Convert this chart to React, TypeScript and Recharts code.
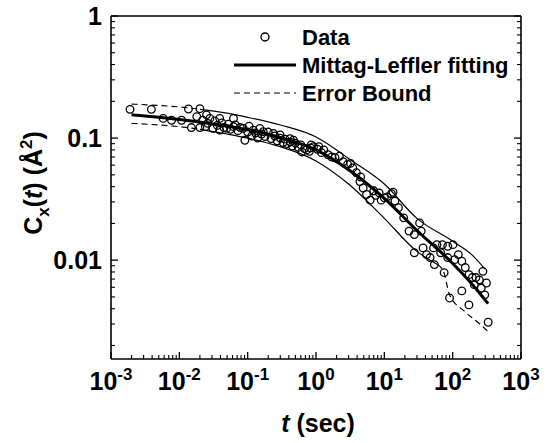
import React from "react";
import {
  ComposedChart,
  Line,
  Scatter,
  XAxis,
  YAxis,
  Customized,
} from "recharts";

// ---- data ----
const dataT = [
  0.0019, 0.0039, 0.0058, 0.0077, 0.0108, 0.0136, 0.02, 0.015, 0.02, 0.018,
  0.025, 0.028, 0.039, 0.062, 0.024, 0.031, 0.039, 0.049, 0.062, 0.091,
  0.086, 0.121, 0.151, 0.169, 0.238, 0.298, 0.417, 0.468, 0.62, 0.73, 0.92,
  0.022, 0.026, 0.033, 0.036, 0.042, 0.045, 0.052, 0.056, 0.066, 0.072,
  0.078, 0.1, 0.105, 0.115, 0.13, 0.14, 0.16, 0.18, 0.2, 0.22, 0.25, 0.27,
  0.3, 0.33, 0.35, 0.38, 0.42, 0.45, 0.5, 0.55, 0.6, 0.68, 0.8, 0.85,
  0.83, 1.05, 1.1, 1.2, 1.3, 1.5, 1.7, 1.9, 2.2, 2.5, 2.9, 3.2, 3.45, 3.9,
  4.4, 4.5, 4.9, 5.5, 6.2, 7.0, 7.5, 8.4, 9, 10, 11, 12.7, 13.4, 14.3, 16.1,
  19.2, 23, 27.5, 32.8, 34.7, 27.5, 36.9, 41.6, 46.8, 52.5, 59, 70.8, 84.7,
  101, 66.8, 84.7, 107, 121, 136, 153, 173, 194, 219, 246, 277, 312, 295,
  262, 207, 90, 136, 173, 331, 75, 54,
];
const dataC = [
  0.172, 0.172, 0.145, 0.14, 0.14, 0.173, 0.174, 0.122, 0.122, 0.15,
  0.155, 0.145, 0.145, 0.145, 0.124, 0.12, 0.116, 0.12, 0.124, 0.096,
  0.12, 0.116, 0.12, 0.113, 0.109, 0.106, 0.099, 0.096, 0.077, 0.08, 0.085,
  0.14, 0.132, 0.138, 0.127, 0.133, 0.122, 0.13, 0.118, 0.128, 0.115,
  0.122, 0.112, 0.125, 0.104, 0.11, 0.1, 0.108, 0.103, 0.112, 0.099, 0.104, 0.095,
  0.1, 0.092, 0.098, 0.09, 0.093, 0.086, 0.091, 0.084, 0.088, 0.082, 0.078, 0.088,
  0.083, 0.081, 0.085, 0.076, 0.08, 0.073, 0.07, 0.069, 0.071, 0.064, 0.061, 0.062, 0.057, 0.052,
  0.044, 0.048, 0.039, 0.0345, 0.031, 0.037, 0.034, 0.0356, 0.031, 0.0324, 0.033, 0.035, 0.036, 0.0305, 0.0269,
  0.0222, 0.0173, 0.0162, 0.0202, 0.0173, 0.0115, 0.0126, 0.0111, 0.0105, 0.0126, 0.0134, 0.0134, 0.013,
  0.0134, 0.0115, 0.0105, 0.0101, 0.0111, 0.0098, 0.0087, 0.0076, 0.0072, 0.0072, 0.0069, 0.0081, 0.0065, 0.0052,
  0.0059, 0.0063, 0.0049, 0.0056, 0.0043, 0.0031, 0.0079, 0.0092,
];

const fitT = [0.002, 0.005, 0.01, 0.03, 0.1, 0.3, 1, 3, 10, 30, 100, 200, 330];
const fitC = [0.155, 0.148, 0.142, 0.131, 0.117, 0.101, 0.08, 0.055, 0.032, 0.0175, 0.0094, 0.0062, 0.0044];

// upper error bound: dashed start, then solid
const upperDashT = [0.002, 0.005, 0.01, 0.02];
const upperDashC = [0.19, 0.185, 0.18, 0.172];
const upperT = [0.02, 0.05, 0.1, 0.3, 1, 2, 3, 10, 30, 100, 200, 300];
const upperC = [0.172, 0.16, 0.148, 0.128, 0.102, 0.08, 0.068, 0.042, 0.022, 0.0143, 0.0108, 0.0084];

// lower error bound: dashed start, solid middle, dashed end
const lowerDashT = [0.002, 0.005, 0.01, 0.02];
const lowerDashC = [0.132, 0.128, 0.124, 0.118];
const lowerT = [0.02, 0.05, 0.1, 0.3, 1, 3, 10, 30, 60];
const lowerC = [0.118, 0.108, 0.1, 0.085, 0.065, 0.042, 0.022, 0.0118, 0.0092];
const lowerTailT = [60, 75, 90, 150, 250, 330];
const lowerTailC = [0.0092, 0.0078, 0.0052, 0.0038, 0.003, 0.0026];

// axes
const xTicks = [0.001, 0.01, 0.1, 1, 10, 100, 1000];
const xTickExps = ["-3", "-2", "-1", "0", "1", "2", "3"];
const yTicks = [1, 0.1, 0.01];
const yTickLabels = ["1", "0.1", "0.01"];
const decadesX = [-3, -2, -1, 0, 1, 2];
const decadesY = [-3, -2, -1];
const mults = [2, 3, 4, 5, 6, 7, 8, 9];
const xMinor = decadesX.flatMap((d) => mults.map((m) => m * Math.pow(10, d)));
const yMinor = decadesY
  .flatMap((d) => mults.map((m) => m * Math.pow(10, d)))
  .filter((v) => v > 0.00155);
const xAllTicks = [...xTicks, ...xMinor];
const yAllTicks = [...yTicks, ...yMinor];

const zip = (t: number[], c: number[]) => t.map((x, i) => ({ x, y: c[i] }));
const points = zip(dataT, dataC);
const fit = zip(fitT, fitC);
const upperDash = zip(upperDashT, upperDashC);
const upper = zip(upperT, upperC);
const lowerDash = zip(lowerDashT, lowerDashC);
const lower = zip(lowerT, lowerC);
const lowerTail = zip(lowerTailT, lowerTailC);

const FONT = "'Liberation Sans', Arial, Helvetica, sans-serif";
const X_DOMAIN: [number, number] = [0.001, 1000];
const Y_DOMAIN: [number, number] = [0.00155, 1];
const MAJ = 7;
const MIN = 4;

const isMajor = (index: number, n: number) => index < n;

// bottom axis: inward tick line + label for majors
const XTickBottom = (props: any) => {
  const { x, y, index } = props;
  const major = isMajor(index, xTicks.length);
  return (
    <g>
      <line x1={x} y1={y} x2={x} y2={y - (major ? MAJ : MIN)} stroke="#000" strokeWidth={major ? 1.3 : 1.1} />
      {major && (
        <text x={x} y={y + 31} textAnchor="middle" fontFamily={FONT} fontWeight="bold" fontSize={25} fill="#000">
          <tspan>10</tspan>
          <tspan dy={-10} fontSize={17}>{xTickExps[index]}</tspan>
        </text>
      )}
    </g>
  );
};

const XTickTop = (props: any) => {
  const { x, y, index } = props;
  const major = isMajor(index, xTicks.length);
  return <line x1={x} y1={y} x2={x} y2={y + (major ? MAJ : MIN)} stroke="#000" strokeWidth={major ? 1.3 : 1.1} />;
};

const YTickLeft = (props: any) => {
  const { x, y, index } = props;
  const major = isMajor(index, yTicks.length);
  return (
    <g>
      <line x1={x} y1={y} x2={x + (major ? MAJ : MIN)} y2={y} stroke="#000" strokeWidth={major ? 1.3 : 1.1} />
      {major && (
        <text x={x - 9} y={y + 9} textAnchor="end" fontFamily={FONT} fontWeight="bold" fontSize={25} fill="#000">
          {yTickLabels[index]}
        </text>
      )}
    </g>
  );
};

const YTickRight = (props: any) => {
  const { x, y, index } = props;
  const major = isMajor(index, yTicks.length);
  return <line x1={x} y1={y} x2={x - (major ? MAJ : MIN)} y2={y} stroke="#000" strokeWidth={major ? 1.3 : 1.1} />;
};

const Circle = (props: any) => {
  const { cx, cy } = props;
  if (cx == null || cy == null) return null;
  return <circle cx={cx} cy={cy} r={3.8} fill="none" stroke="#000" strokeWidth={1.3} />;
};

const Overlay = () => (
  <g fontFamily={FONT} fontWeight="bold" fill="#000">
    {/* legend */}
    <circle cx={265} cy={37} r={4} fill="none" stroke="#000" strokeWidth={1.4} />
    <text x={302} y={45} fontSize={22}>Data</text>
    <line x1={234} y1={65} x2={296} y2={65} stroke="#000" strokeWidth={3} />
    <text x={302} y={73} fontSize={22}>Mittag-Leffler fitting</text>
    <line x1={234} y1={93} x2={296} y2={93} stroke="#000" strokeWidth={1.2} strokeDasharray="6 4" />
    <text x={302} y={101} fontSize={22}>Error Bound</text>
    {/* axis titles */}
    <text x={318} y={432} fontSize={25} textAnchor="middle">
      <tspan fontStyle="italic">t</tspan>
      <tspan> (sec)</tspan>
    </text>
    <text transform="translate(42,183) rotate(-90)" fontSize={25} textAnchor="middle">
      <tspan>C</tspan>
      <tspan dy={7} fontSize={17}>x</tspan>
      <tspan dy={-7}>(</tspan>
      <tspan fontStyle="italic">t</tspan>
      <tspan>) (Å</tspan>
      <tspan dy={-10} fontSize={17}>2</tspan>
      <tspan dy={10}>)</tspan>
    </text>
  </g>
);

const frame = { stroke: "#000", strokeWidth: 1.6 };

export default function App() {
  return (
    <div style={{ position: "absolute", left: 0, top: 0, background: "#fff" }}>
      <ComposedChart
        width={553}
        height={443}
        margin={{ top: 0, right: 0, bottom: 24, left: 0 }}
      >
        <XAxis
          xAxisId="x"
          dataKey="x"
          type="number"
          scale="log"
          domain={X_DOMAIN}
          allowDataOverflow
          ticks={xAllTicks}
          interval={0}
          height={60}
          tickLine={false}
          tickSize={0}
          tickMargin={0}
          axisLine={frame}
          tick={<XTickBottom />}
        />
        <XAxis
          xAxisId="xTop"
          orientation="top"
          type="number"
          scale="log"
          domain={X_DOMAIN}
          allowDataOverflow
          ticks={xAllTicks}
          interval={0}
          height={16}
          tickLine={false}
          tickSize={0}
          tickMargin={0}
          axisLine={frame}
          tick={<XTickTop />}
        />
        <YAxis
          yAxisId="y"
          dataKey="y"
          type="number"
          scale="log"
          domain={Y_DOMAIN}
          allowDataOverflow
          ticks={yAllTicks}
          interval={0}
          width={111}
          tickLine={false}
          tickSize={0}
          tickMargin={0}
          axisLine={frame}
          tick={<YTickLeft />}
        />
        <YAxis
          yAxisId="yRight"
          orientation="right"
          type="number"
          scale="log"
          domain={Y_DOMAIN}
          allowDataOverflow
          ticks={yAllTicks}
          interval={0}
          width={32}
          tickLine={false}
          tickSize={0}
          tickMargin={0}
          axisLine={frame}
          tick={<YTickRight />}
        />

        <Line xAxisId="x" yAxisId="y" data={upperDash} dataKey="y" type="monotone" stroke="#000" strokeWidth={1.2} strokeDasharray="6 4" dot={false} isAnimationActive={false} />
        <Line xAxisId="x" yAxisId="y" data={upper} dataKey="y" type="monotone" stroke="#000" strokeWidth={1.2} dot={false} isAnimationActive={false} />
        <Line xAxisId="x" yAxisId="y" data={lowerDash} dataKey="y" type="monotone" stroke="#000" strokeWidth={1.2} strokeDasharray="6 4" dot={false} isAnimationActive={false} />
        <Line xAxisId="x" yAxisId="y" data={lower} dataKey="y" type="monotone" stroke="#000" strokeWidth={1.2} dot={false} isAnimationActive={false} />
        <Line xAxisId="x" yAxisId="y" data={lowerTail} dataKey="y" type="monotone" stroke="#000" strokeWidth={1.2} strokeDasharray="6 4" dot={false} isAnimationActive={false} />
        <Scatter xAxisId="x" yAxisId="y" data={points} shape={<Circle />} isAnimationActive={false} />
        <Line xAxisId="x" yAxisId="y" data={fit} dataKey="y" type="monotone" stroke="#000" strokeWidth={3} dot={false} isAnimationActive={false} />
        <Customized component={Overlay} />
      </ComposedChart>
    </div>
  );
}
